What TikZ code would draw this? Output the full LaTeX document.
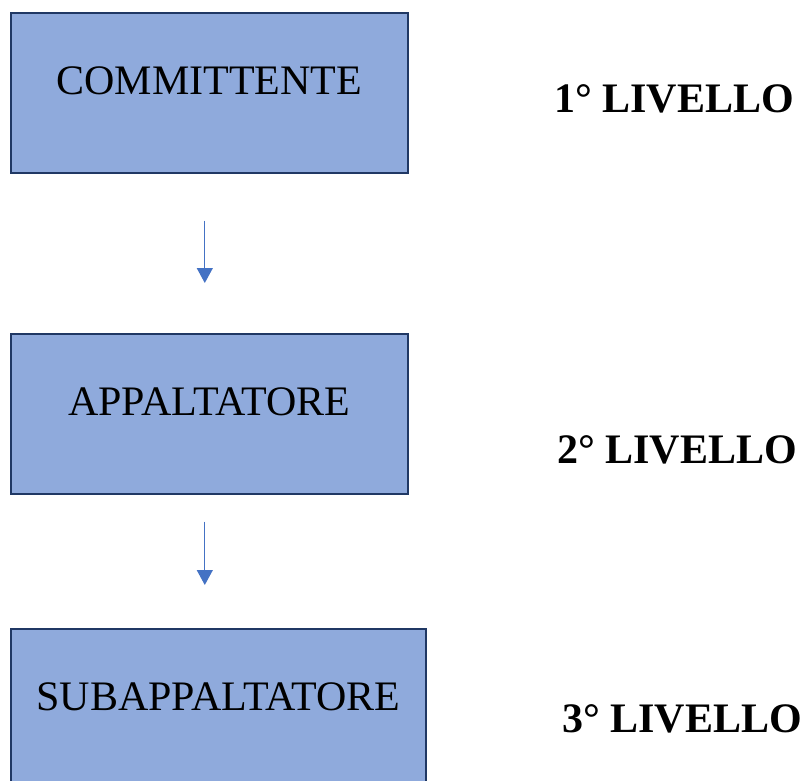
\documentclass[tikz,border=0pt]{standalone}
\usepackage{fontspec}
\setmainfont{Liberation Serif}
\usetikzlibrary{arrows.meta,positioning}
\usepackage{xcolor}
\definecolor{boxfill}{HTML}{8FAADC}
\definecolor{boxline}{HTML}{203864}
\definecolor{arrblue}{HTML}{4472C4}

\begin{document}
\begin{tikzpicture}[
  x=1pt,y=-1pt,
  lvl/.style={draw=boxline,line width=1.6pt,fill=boxfill,inner sep=0pt,
    text height=82pt,text depth=78pt,align=center,
    font=\fontsize{42}{42}\selectfont},
  tag/.style={anchor=base,inner sep=0pt,
    font=\fontsize{42}{42}\selectfont\bfseries},
  arr/.style={-{Triangle[length=15pt,width=16pt]},line width=1.2pt,color=arrblue},
]
\useasboundingbox (0,0) rectangle (806,780);
\node[lvl,minimum width=397pt,anchor=north west] (comm) at (10,12) {COMMITTENTE};
\node[lvl,minimum width=397pt,anchor=north west] (appa) at (10,333) {APPALTATORE};
\node[lvl,minimum width=415pt,anchor=north west] (suba) at (10,628) {SUBAPPALTATORE};
\node[tag] (liv1) at (674,112) {1° LIVELLO};
\node[tag] (liv2) at (677,463) {2° LIVELLO};
\node[tag] (liv3) at (682,732) {3° LIVELLO};
\draw[arr,shorten <=47pt,shorten >=50pt] ([xshift=-4.5pt]comm.south) -- ([xshift=-4.5pt]appa.north);
\draw[arr,shorten <=27pt,shorten >=43pt] ([xshift=-4.5pt]appa.south) -- ([xshift=-4.5pt]appa.south |- suba.north);
\end{tikzpicture}
\end{document}
